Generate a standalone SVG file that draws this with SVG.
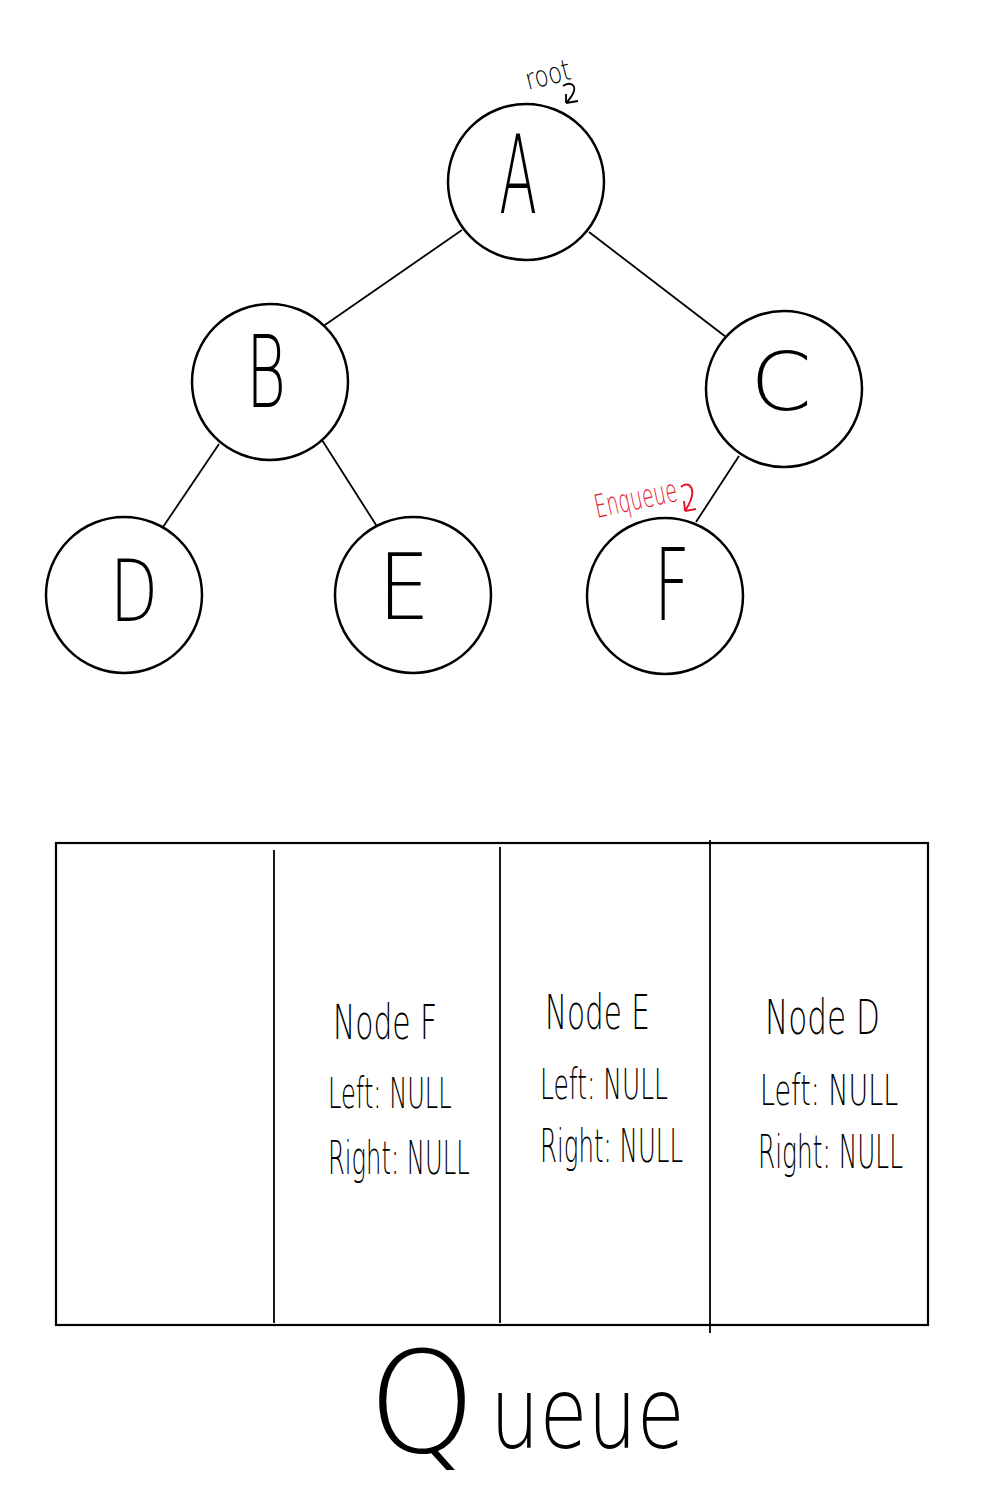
<svg xmlns="http://www.w3.org/2000/svg" width="993" height="1488" viewBox="0 0 993 1488">
<style>
.n{fill:#fff;stroke:#000;stroke-width:2.5}
.e{stroke:#000;stroke-width:1.8;fill:none}
.lt{font-family:"DejaVu Sans","Liberation Sans",sans-serif;font-weight:200;fill:#000}
.hw{font-family:"DejaVu Sans","Liberation Sans",sans-serif;font-weight:200;fill:#000}
.red{fill:#e3172d;font-family:"DejaVu Sans","Liberation Sans",sans-serif;font-weight:200}
</style>
<rect width="993" height="1488" fill="#fff"/>
<g id="connectors">
<line class="e" x1="462" y1="230" x2="322" y2="327"/>
<line class="e" x1="589" y1="232" x2="726" y2="337"/>
<line class="e" x1="219" y1="444" x2="163" y2="527"/>
<line class="e" x1="322" y1="440" x2="378" y2="528"/>
<line class="e" x1="739" y1="456" x2="696" y2="522"/>
</g>
<g id="nodeA"><circle class="n" cx="526" cy="182" r="78"/><text class="lt" transform="translate(518 213) scale(0.51 1)" font-size="108" text-anchor="middle" textLength="74" lengthAdjust="spacingAndGlyphs">A</text></g>
<g id="nodeB"><circle class="n" cx="270" cy="382" r="78"/><text class="lt" transform="translate(266 407) scale(0.58 1)" font-size="100" text-anchor="middle" textLength="69" lengthAdjust="spacingAndGlyphs">B</text></g>
<g id="nodeC"><circle class="n" cx="784" cy="389" r="78"/><text class="lt" transform="translate(781 410) scale(1.1 1)" font-size="80" text-anchor="middle" textLength="56" lengthAdjust="spacingAndGlyphs">C</text></g>
<g id="nodeD"><circle class="n" cx="124" cy="595" r="78"/><text class="lt" transform="translate(134 621) scale(0.74 1)" font-size="85" text-anchor="middle" textLength="65" lengthAdjust="spacingAndGlyphs">D</text></g>
<g id="nodeE"><circle class="n" cx="413" cy="595" r="78"/><text class="lt" transform="translate(404 619) scale(0.91 1)" font-size="90" text-anchor="middle" textLength="57" lengthAdjust="spacingAndGlyphs">E</text></g>
<g id="nodeF"><circle class="n" cx="665" cy="596" r="78"/><text class="lt" transform="translate(672 620) scale(0.63 1)" font-size="100" text-anchor="middle" textLength="57" lengthAdjust="spacingAndGlyphs">F</text></g>
<g id="rootLabel">
<text class="hw" transform="translate(528 90) rotate(-14) scale(0.82 1)" font-size="29" textLength="56" lengthAdjust="spacingAndGlyphs">root</text>
<path class="e" d="M563,86 C571,80 582,86 566,103 M566,103 L566,94 M566,103 L578,101" stroke-width="2"/>
</g>
<g id="enqueueLabel">
<text class="red" transform="translate(597 518) rotate(-12) scale(0.62 1)" font-size="32" textLength="135" lengthAdjust="spacingAndGlyphs">Enqueue</text>
<path d="M681,487 C688,480 700,488 685,511 M685,511 L684,501 M685,511 L696,509" fill="none" stroke="#e3172d" stroke-width="2"/>
</g>
<g id="queue">
<rect x="56" y="843" width="872" height="482" fill="none" stroke="#000" stroke-width="2.2"/>
<line class="e" x1="274" y1="850" x2="274" y2="1323"/>
<line class="e" x1="500" y1="847" x2="500" y2="1323"/>
<line class="e" x1="710" y1="840" x2="710" y2="1333"/>
</g>
<g id="slotF">
<text class="hw" transform="translate(333 1039) scale(0.62 1)" font-size="48" textLength="168" lengthAdjust="spacingAndGlyphs">Node F</text>
<text class="hw" transform="translate(328 1108) scale(0.57 1)" font-size="42" textLength="217" lengthAdjust="spacingAndGlyphs">Left: NULL</text>
<text class="hw" transform="translate(328 1174) scale(0.525 1)" font-size="46" textLength="270" lengthAdjust="spacingAndGlyphs">Right: NULL</text>
</g>
<g id="slotE">
<text class="hw" transform="translate(545 1029) scale(0.61 1)" font-size="48" textLength="172" lengthAdjust="spacingAndGlyphs">Node E</text>
<text class="hw" transform="translate(540 1099) scale(0.59 1)" font-size="42" textLength="217" lengthAdjust="spacingAndGlyphs">Left: NULL</text>
<text class="hw" transform="translate(540 1162) scale(0.53 1)" font-size="46" textLength="270" lengthAdjust="spacingAndGlyphs">Right: NULL</text>
</g>
<g id="slotD">
<text class="hw" transform="translate(765 1034) scale(0.65 1)" font-size="48" textLength="177" lengthAdjust="spacingAndGlyphs">Node D</text>
<text class="hw" transform="translate(760 1105) scale(0.64 1)" font-size="42" textLength="216" lengthAdjust="spacingAndGlyphs">Left: NULL</text>
<text class="hw" transform="translate(758 1168) scale(0.535 1)" font-size="46" textLength="271" lengthAdjust="spacingAndGlyphs">Right: NULL</text>
</g>
<g id="queueLabel">
<text class="hw" transform="translate(368 1452) scale(0.98 1)" font-size="140">Q</text>
<text class="hw" transform="translate(490 1448) scale(0.78 1)" font-size="100">ueue</text>
</g>
</svg>
